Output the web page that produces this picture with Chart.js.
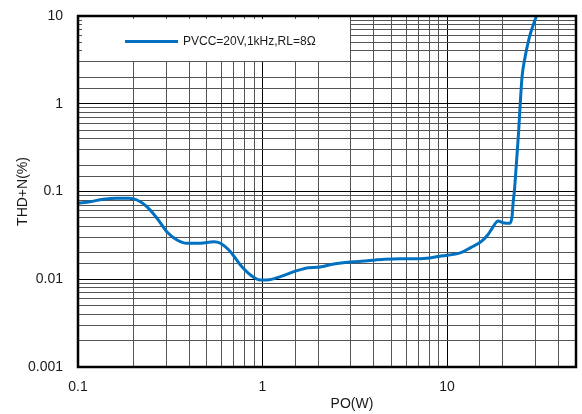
<!DOCTYPE html>
<html>
  <head>
    <title>THD+N vs Output Power</title>
    <script src="https://cdn.jsdelivr.net/npm/chart.js"></script>
    <style>
      html, body { margin: 0; padding: 0; background: #fff; }
    </style>
  </head>
  <body>
    <canvas id="thdChart" width="582" height="414"></canvas>
    <script>
      // --- Data ---
      const powerW = [0.1, 0.116, 0.137, 0.162, 0.188, 0.209, 0.236, 0.268, 0.303, 0.344,
        0.39, 0.461, 0.544, 0.591, 0.67, 0.759, 0.861, 0.975, 1.06, 1.25,
        1.48, 1.78, 1.98, 2.44, 3.0, 3.71, 4.56, 5.62, 6.93, 8.19,
        9.27, 11.9, 13.5, 15.3, 16.6, 17.7, 18.9, 20.1, 21.8, 22.5,
        22.8, 23.2, 23.7, 24.4, 25.0, 25.5, 26.3, 28.0, 30.5];
      const thdN = [0.0734, 0.0765, 0.0814, 0.0837, 0.0837, 0.080, 0.0671, 0.0496, 0.0348, 0.028,
        0.0257, 0.0257, 0.0268, 0.0257, 0.0206, 0.01453, 0.01118, 0.0098, 0.0098, 0.0107,
        0.0122, 0.01355, 0.01367, 0.0149, 0.0157, 0.01627, 0.01687, 0.01714, 0.01714, 0.01762,
        0.0184, 0.0201, 0.0231, 0.0268, 0.0319, 0.0391, 0.0461, 0.0441, 0.0434, 0.0516,
        0.0734, 0.104, 0.192, 0.46, 1.10, 2.03, 3.15, 5.81, 10];
      const seriesLabel = "PVCC=20V,1kHz,RL=8\u03A9";
      const xTickLabels = ["0.1", "1", "10"];
      const yTickLabels = ["0.001", "0.01", "0.1", "1", "10"];

      const FONT = "'Liberation Sans', Arial, sans-serif";
      const isDecade = v => Math.abs(Math.log10(v) - Math.round(Math.log10(v))) < 1e-6;

      // legend box, frame and axis titles
      const decor = {
        id: 'decor',
        beforeDatasetsDraw(chart) {
          const { ctx, chartArea: a } = chart;
          ctx.save();
          ctx.fillStyle = '#fff';
          ctx.fillRect(a.left + 4, a.top + 3, 268, 42);
          ctx.strokeStyle = '#0070C0';
          ctx.lineWidth = 3;
          ctx.beginPath();
          ctx.moveTo(a.left + 47, a.top + 25.5);
          ctx.lineTo(a.left + 100, a.top + 25.5);
          ctx.stroke();
          ctx.fillStyle = '#1a1a1a';
          ctx.font = '12px ' + FONT;
          ctx.textBaseline = 'middle';
          ctx.fillText(seriesLabel, a.left + 105, a.top + 25.5);
          ctx.restore();
        },
        afterDraw(chart) {
          const { ctx, chartArea: a } = chart;
          ctx.save();
          ctx.strokeStyle = '#000';
          ctx.lineWidth = 2.5;
          ctx.strokeRect(a.left, a.top, a.right - a.left, a.bottom - a.top);
          ctx.fillStyle = '#1a1a1a';
          ctx.font = '14px ' + FONT;
          ctx.textAlign = 'center';
          ctx.textBaseline = 'middle';
          ctx.fillText('PO(W)', 352, 404);
          ctx.translate(23, (a.top + a.bottom) / 2);
          ctx.rotate(-Math.PI / 2);
          ctx.fillText('THD+N(%)', 0, 0);
          ctx.restore();
        }
      };

      const gridColor = c => isDecade(c.tick.value) ? '#000' : '#555';

      new Chart(document.getElementById('thdChart'), {
        type: 'line',
        data: {
          datasets: [{
            label: seriesLabel,
            data: powerW.map((p, i) => ({ x: p, y: thdN[i] })),
            borderColor: '#0070C0',
            borderWidth: 3,
            pointRadius: 0,
            cubicInterpolationMode: 'monotone',
            fill: false
          }]
        },
        options: {
          responsive: false,
          animation: false,
          layout: { padding: { left: 0, right: 6, top: 16, bottom: 0 } },
          plugins: { legend: { display: false }, tooltip: { enabled: false } },
          scales: {
            x: {
              type: 'logarithmic',
              min: 0.1,
              max: 50,
              afterFit: s => { s.height = 47; s.paddingLeft = 0; s.paddingRight = 0; },
              grid: { color: gridColor, lineWidth: 1, drawTicks: false },
              border: { display: false },
              ticks: {
                autoSkip: false,
                maxRotation: 0,
                padding: 12,
                color: '#1a1a1a',
                font: { family: FONT, size: 14 },
                callback: v => isDecade(v) && xTickLabels.includes(String(v)) ? String(v) : ''
              }
            },
            y: {
              type: 'logarithmic',
              min: 0.001,
              max: 10,
              afterFit: s => { s.width = 78; s.paddingTop = 0; s.paddingBottom = 0; },
              grid: { color: gridColor, lineWidth: 1, drawTicks: false },
              border: { display: false },
              ticks: {
                autoSkip: false,
                padding: 15,
                color: '#1a1a1a',
                font: { family: FONT, size: 14 },
                callback: v => isDecade(v) && yTickLabels.includes(String(v)) ? String(v) : ''
              }
            }
          }
        },
        plugins: [decor]
      });
    </script>
  </body>
</html>
